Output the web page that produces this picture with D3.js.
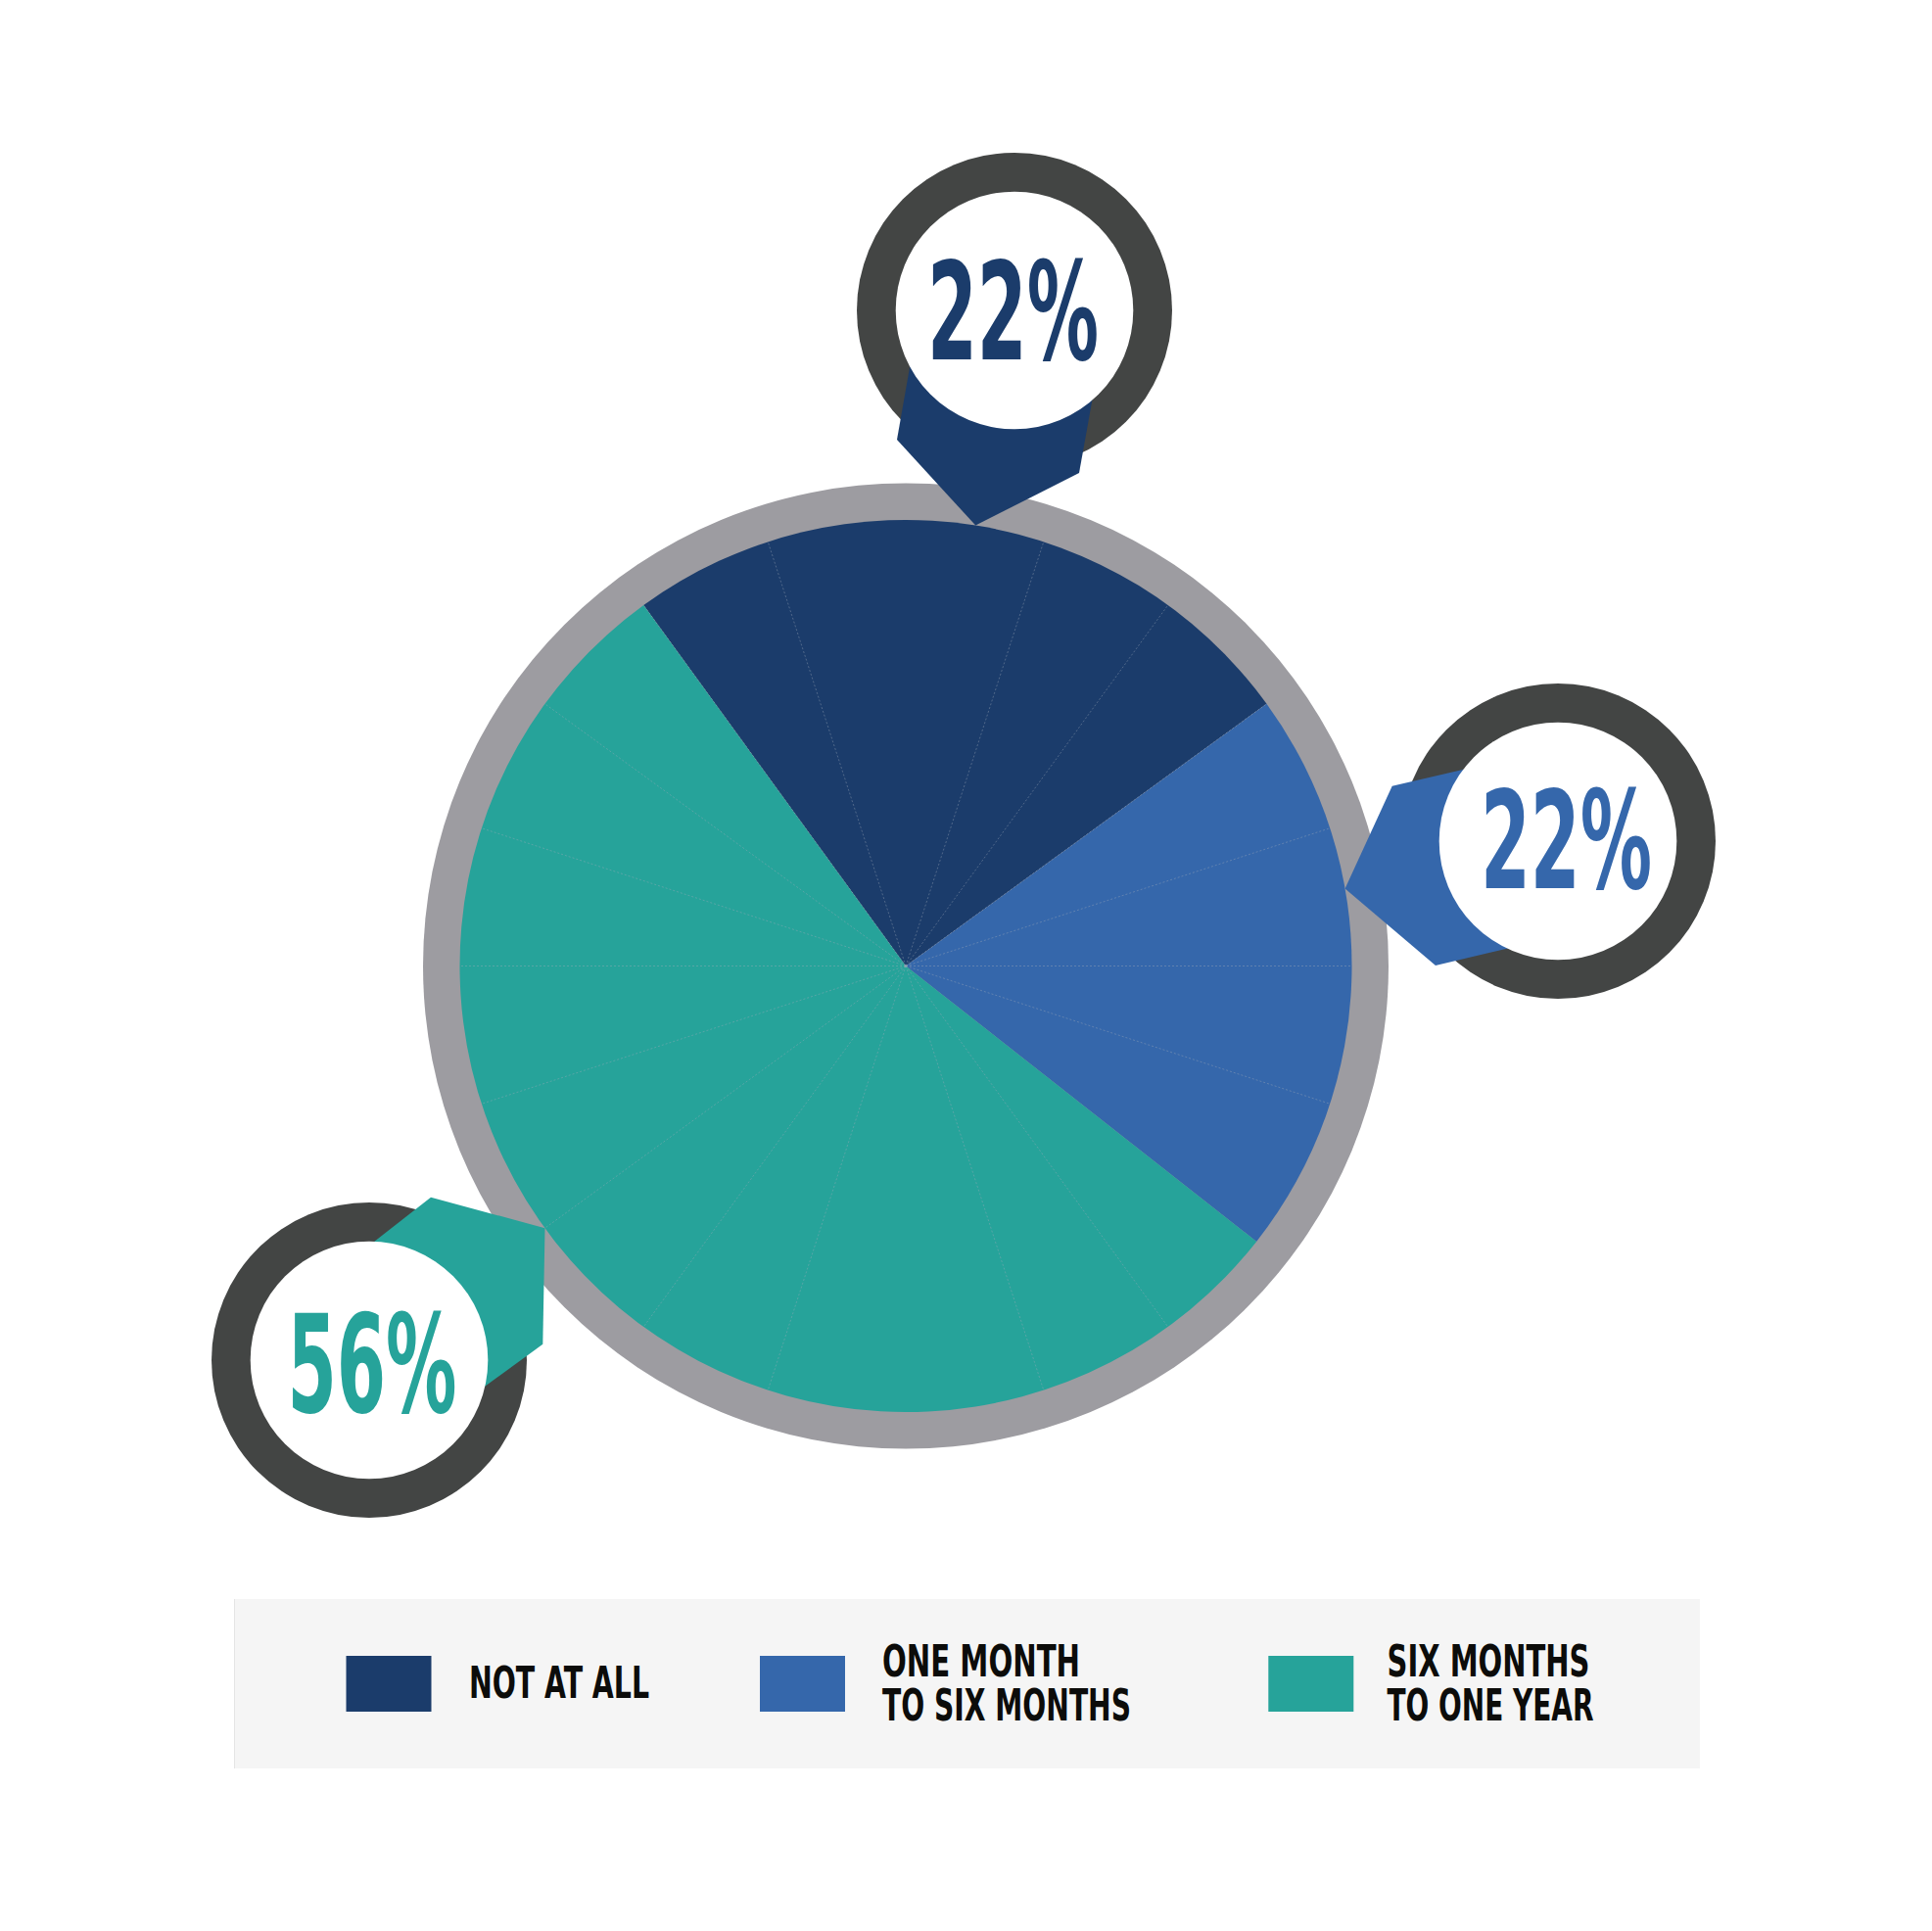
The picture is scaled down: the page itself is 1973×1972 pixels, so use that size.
<!DOCTYPE html>
<html>
<head>
<meta charset="utf-8">
<script src="https://cdn.jsdelivr.net/npm/d3@7"></script>
<style>
  html, body { margin: 0; padding: 0; background: #ffffff; }
  svg { display: block; }
</style>
</head>
<body>
<div id="chart"></div>
<script>
// ---------------- DATA ----------------
const categories = ["NOT AT ALL", "ONE MONTH TO SIX MONTHS", "SIX MONTHS TO ONE YEAR"];
const legendLines = [["NOT AT ALL"], ["ONE MONTH", "TO SIX MONTHS"], ["SIX MONTHS", "TO ONE YEAR"]];
const percentLabels = [22, 22, 56];                 // values printed in the callouts
const sliceShares = [25, 20.6, 54.4];                // angular share of each slice as drawn
const seamAngles = [-18, 18, 36, 54, 72, 90, 108, 144, 162, 198, 216, 234, 252, 270, 288, 306, 324]; // faint seams (deg)
const colors = ["#1b3c6b", "#3567ab", "#26a39a"];

// ---------------- LAYOUT ----------------
const W = 1973, H = 1972;
const cx = 925, cy = 986.5;
const rPie = 455.5, rRing = 493;
const startDeg = -36;

const svg = d3.select("#chart").append("svg")
  .attr("width", W).attr("height", H)
  .attr("viewBox", `0 0 ${W} ${H}`);
svg.append("rect").attr("width", W).attr("height", H).attr("fill", "#ffffff");

const deg = d => d * Math.PI / 180;
const FONT = "'Liberation Sans Narrow','DejaVu Sans Condensed','Liberation Sans',Arial,sans-serif";

// ---------------- PIE ----------------
const gPie = svg.append("g").attr("transform", `translate(${cx},${cy})`);
gPie.append("circle").attr("r", rRing).attr("fill", "#9d9ca1");

const pie = d3.pie().sort(null)
  .startAngle(deg(startDeg)).endAngle(deg(startDeg + 360))
  .value(d => d);
const arc = d3.arc().innerRadius(0).outerRadius(rPie);
const arcs = pie(sliceShares);
gPie.selectAll("path.slice").data(arcs).join("path")
  .attr("class", "slice")
  .attr("d", arc)
  .attr("fill", (d, i) => colors[i]);

// seams
gPie.selectAll("line.seam").data(seamAngles).join("line")
  .attr("class", "seam")
  .attr("x1", 0).attr("y1", 0)
  .attr("x2", a => rPie * Math.sin(deg(a)))
  .attr("y2", a => -rPie * Math.cos(deg(a)))
  .attr("stroke", "rgba(160,170,185,0.4)")
  .attr("stroke-width", 1)
  .attr("stroke-dasharray", "2,2");

// ---------------- CALLOUTS ----------------
const callouts = [
  { c: [1036, 317], tipDeg: 9, pts: [[-99, 13], [-120, 132], "tip", [66, 166], [93.5, 13]],
    text: { x: 947, base: 366.7, w: 175 } },
  { c: [1591, 859], tipDeg: 80, pts: [[-31, -88.5], [-169.3, -56.3], "tip", [-125, 127], [-11, 100]],
    text: { x: 1512, base: 906.7, w: 175 } },
  { c: [377, 1389], tipDeg: 234, pts: [[-17, -103.7], [63, -166.3], "tip", [177.3, -16.3], [83, 52.6]],
    text: { x: 293.5, base: 1441.5, w: 173 } }
];
const rOuter = 161, rInner = 121.3;

const gC = svg.append("g");
gC.selectAll("circle.outer").data(callouts).join("circle")
  .attr("class", "outer")
  .attr("cx", d => d.c[0]).attr("cy", d => d.c[1]).attr("r", rOuter)
  .attr("fill", "#434544");
gC.selectAll("polygon.pointer").data(callouts).join("polygon")
  .attr("class", "pointer")
  .attr("fill", (d, i) => colors[i])
  .attr("points", d => d.pts.map(p => {
    if (p === "tip") {
      return [cx + rPie * Math.sin(deg(d.tipDeg)), cy - rPie * Math.cos(deg(d.tipDeg))].join(",");
    }
    return [d.c[0] + p[0], d.c[1] + p[1]].join(",");
  }).join(" "));
gC.selectAll("circle.inner").data(callouts).join("circle")
  .attr("class", "inner")
  .attr("cx", d => d.c[0]).attr("cy", d => d.c[1]).attr("r", rInner)
  .attr("fill", "#ffffff");
gC.selectAll("text.pct").data(callouts).join("text")
  .attr("class", "pct")
  .attr("x", d => d.text.x).attr("y", d => d.text.base)
  .attr("textLength", d => d.text.w)
  .attr("lengthAdjust", "spacingAndGlyphs")
  .attr("font-family", FONT)
  .attr("font-weight", "bold")
  .attr("font-size", 139)
  .attr("fill", (d, i) => colors[i])
  .text((d, i) => percentLabels[i] + "%");

// ---------------- LEGEND ----------------
const gL = svg.append("g");
gL.append("rect").attr("x", 239).attr("y", 1633).attr("width", 1497).attr("height", 173)
  .attr("fill", "#f5f5f5");
gL.append("line").attr("x1", 239.5).attr("x2", 239.5).attr("y1", 1633).attr("y2", 1806)
  .attr("stroke", "#e4e4e4").attr("stroke-width", 1);

const swatchX = [353.5, 776, 1295.3];
const legendSpec = [
  { tx: 479, bases: [1734], widths: [184] },
  { tx: 901, bases: [1711.7, 1756.7], widths: [202, 254] },
  { tx: 1416.5, bases: [1711.7, 1756.7], widths: [207, 211] }
];
categories.forEach((cat, i) => {
  gL.append("rect")
    .attr("x", swatchX[i]).attr("y", 1691)
    .attr("width", 87).attr("height", 57)
    .attr("fill", colors[i]);
  const t = gL.append("text")
    .attr("font-family", FONT)
    .attr("font-weight", "bold")
    .attr("font-size", 45)
    .attr("fill", "#0c0c0a");
  legendLines[i].forEach((line, j) => {
    t.append("tspan")
      .attr("x", legendSpec[i].tx).attr("y", legendSpec[i].bases[j])
      .attr("textLength", legendSpec[i].widths[j])
      .attr("lengthAdjust", "spacingAndGlyphs")
      .text(line);
  });
});
</script>
</body>
</html>
